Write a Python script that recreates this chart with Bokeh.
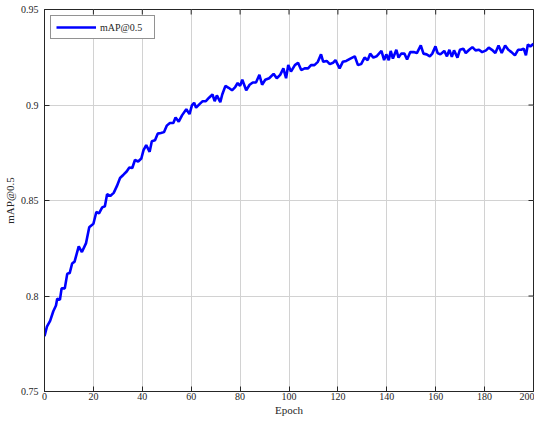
import math
from bokeh.plotting import figure
from bokeh.models import FixedTicker, Range1d, Legend, LegendItem
from bokeh.embed import file_html
from bokeh.resources import INLINE

epochs = [0, 1, 2.3, 3.6, 4.7, 5.2, 6.3, 7, 8.3, 9.3, 10.3, 11.3, 12.3, 14, 15.3, 17, 18.3, 20, 21.2,
          22.3, 23.6, 24.7, 25.6, 26.9, 28.3, 29.6, 30.9, 32.3, 33.6, 34.7, 35.9, 37, 38.3, 39.6, 40.5,
          41.6, 43, 43.9, 45.2, 46.3, 47.6, 48.9, 50, 51.3, 52.7, 53.6, 54.9, 56.3, 58, 59.3, 60.3,
          61.2, 62, 63.3, 64.7, 66, 67.3, 68.7, 69.6, 70.5, 71.9, 72.7, 74, 75.3, 76.7, 78, 79, 80,
          80.9, 82.5, 83.9, 85.2, 86.5, 87.9, 89, 90.3, 91.9, 93.7, 95, 96.4, 97.7, 98.8, 99.7, 100.8,
          102.4, 103.7, 105, 106.4, 107.8, 109, 110.4, 111.8, 113.1, 114, 115.4, 116.7, 118, 119,
          120.7, 122, 123.4, 125.1, 126.9, 128.2, 129.5, 130.9, 132.2, 133.2, 134.5, 135.8, 137.8,
          138.9, 139.8, 140.8, 141.6, 142.5, 143.9, 144.8, 145.9, 147.2, 148.3, 149.6, 151, 152.3,
          153.9, 155, 156.3, 157.6, 158.6, 159.9, 160.8, 161.9, 163.5, 164.6, 165.6, 166.6, 167.5,
          168.9, 169.9, 171.3, 172.3, 173.7, 175, 176.3, 177.7, 179, 180.6, 181.7, 183, 184.4, 185.7,
          187, 188.4, 189.7, 191, 192.4, 193.7, 195, 196, 196.9, 197.7, 198.7, 200]
map50 = [0.779, 0.784, 0.787, 0.792, 0.795, 0.7986, 0.798, 0.804, 0.804, 0.8116, 0.812, 0.817, 0.818,
         0.826, 0.823, 0.8277, 0.836, 0.8378, 0.8440, 0.8433, 0.8464, 0.847, 0.8533, 0.8524, 0.854,
         0.8575, 0.8618, 0.8635, 0.8652, 0.8673, 0.867, 0.8712, 0.8704, 0.872, 0.8764, 0.879, 0.8755,
         0.881, 0.8815, 0.885, 0.8853, 0.8858, 0.8892, 0.8906, 0.8906, 0.8935, 0.8913, 0.8947, 0.8978,
         0.8952, 0.8998, 0.9012, 0.8986, 0.9003, 0.902, 0.902, 0.9038, 0.9055, 0.902, 0.905, 0.9015,
         0.9055, 0.910, 0.909, 0.9077, 0.9094, 0.9115, 0.910, 0.9132, 0.9077, 0.9106, 0.9118, 0.9118,
         0.9158, 0.9106, 0.9132, 0.914, 0.9163, 0.914, 0.9158, 0.9192, 0.914, 0.9209, 0.9175, 0.9209,
         0.9221, 0.9183, 0.9192, 0.9192, 0.9209, 0.9209, 0.9226, 0.9265, 0.9226, 0.9231, 0.9214,
         0.9221, 0.9235, 0.9192, 0.9226, 0.9231, 0.9243, 0.9255, 0.9209, 0.9214, 0.9248, 0.9235,
         0.9269, 0.9248, 0.9255, 0.9283, 0.9235, 0.9265, 0.9235, 0.9283, 0.9243, 0.9289, 0.9248,
         0.9269, 0.9269, 0.9238, 0.9277, 0.9277, 0.9272, 0.9312, 0.9269, 0.9265, 0.9255, 0.9269,
         0.9307, 0.9272, 0.9265, 0.9283, 0.9255, 0.9289, 0.9252, 0.9286, 0.9248, 0.9289, 0.9295,
         0.9272, 0.9289, 0.9303, 0.9286, 0.9289, 0.9277, 0.9286, 0.930, 0.9289, 0.9272, 0.9312,
         0.9272, 0.9312, 0.9289, 0.9277, 0.926, 0.9289, 0.9289, 0.9295, 0.926, 0.9317, 0.9307, 0.932]

x_ticks = [0, 20, 40, 60, 80, 100, 120, 140, 160, 180, 200]
x_tick_labels = ["0", "20", "40", "60", "80", "100", "120", "140", "160", "180", "200"]
y_ticks = [0.75, 0.8, 0.85, 0.9, 0.95]
y_tick_labels = ["0.75", "0.8", "0.85", "0.9", "0.95"]

FONT = "Liberation Serif"
AX = "#262626"

x0, x1 = x_ticks[0], x_ticks[-1]
y0, y1 = y_ticks[0], y_ticks[-1]

p = figure(width=534, height=418, output_backend="svg", toolbar_location=None,
           x_range=Range1d(x0, x1), y_range=Range1d(y0, y1),
           min_border_left=44, min_border_right=1, min_border_top=9, min_border_bottom=24,
           background_fill_color="white", border_fill_color="white")

p.xgrid.ticker = FixedTicker(ticks=x_ticks)
p.ygrid.ticker = FixedTicker(ticks=y_ticks)
for g in (p.xgrid[0], p.ygrid[0]):
    g.grid_line_color = "#d2d2d2"
    g.grid_line_width = 1

r = p.line(epochs, map50, line_color="#0000ff", line_width=2.6)

# tick marks on the top and right edges of the box (MATLAB "box on")
p.scatter(x_ticks, [y1] * len(x_ticks), marker="dash", size=10, angle=math.pi / 2,
          line_color=AX, line_width=1)
p.scatter([x1] * len(y_ticks), y_ticks, marker="dash", size=10,
          line_color=AX, line_width=1)

p.outline_line_color = AX
p.outline_line_width = 1

for ax in (p.xaxis[0], p.yaxis[0]):
    ax.axis_line_color = AX
    ax.major_tick_line_color = AX
    ax.major_tick_in = 5
    ax.major_tick_out = 0
    ax.minor_tick_line_color = None
    ax.major_label_text_font = FONT
    ax.major_label_text_font_size = "10px"
    ax.major_label_text_line_height = 1.0
    ax.major_label_text_color = AX
    ax.axis_label_text_font = FONT
    ax.axis_label_text_font_size = "11px"
    ax.axis_label_text_line_height = 1.0
    ax.axis_label_text_font_style = "normal"
    ax.axis_label_text_color = AX

p.xaxis[0].ticker = FixedTicker(ticks=x_ticks)
p.xaxis[0].major_label_overrides = dict(zip(x_ticks, x_tick_labels))
p.xaxis[0].axis_label = "Epoch"
p.xaxis[0].major_label_standoff = 1
p.xaxis[0].axis_label_standoff = 1

p.yaxis[0].ticker = FixedTicker(ticks=y_ticks)
p.yaxis[0].major_label_overrides = dict(zip(y_ticks, y_tick_labels))
p.yaxis[0].axis_label = "mAP@0.5"
p.yaxis[0].major_label_standoff = 6
p.yaxis[0].axis_label_standoff = 2

legend = Legend(items=[LegendItem(label="mAP@0.5", renderers=[r])], location="top_left")
legend.label_text_font = FONT
legend.label_text_font_size = "10px"
legend.label_text_color = AX
legend.border_line_color = AX
legend.border_line_width = 1
legend.padding = 5
legend.margin = 6
legend.spacing = 0
legend.glyph_width = 40
legend.glyph_height = 12
legend.label_height = 12
legend.label_width = 49
legend.label_standoff = 4
legend.background_fill_alpha = 1
p.add_layout(legend)

open("out.html", "w").write(file_html(p, INLINE))
